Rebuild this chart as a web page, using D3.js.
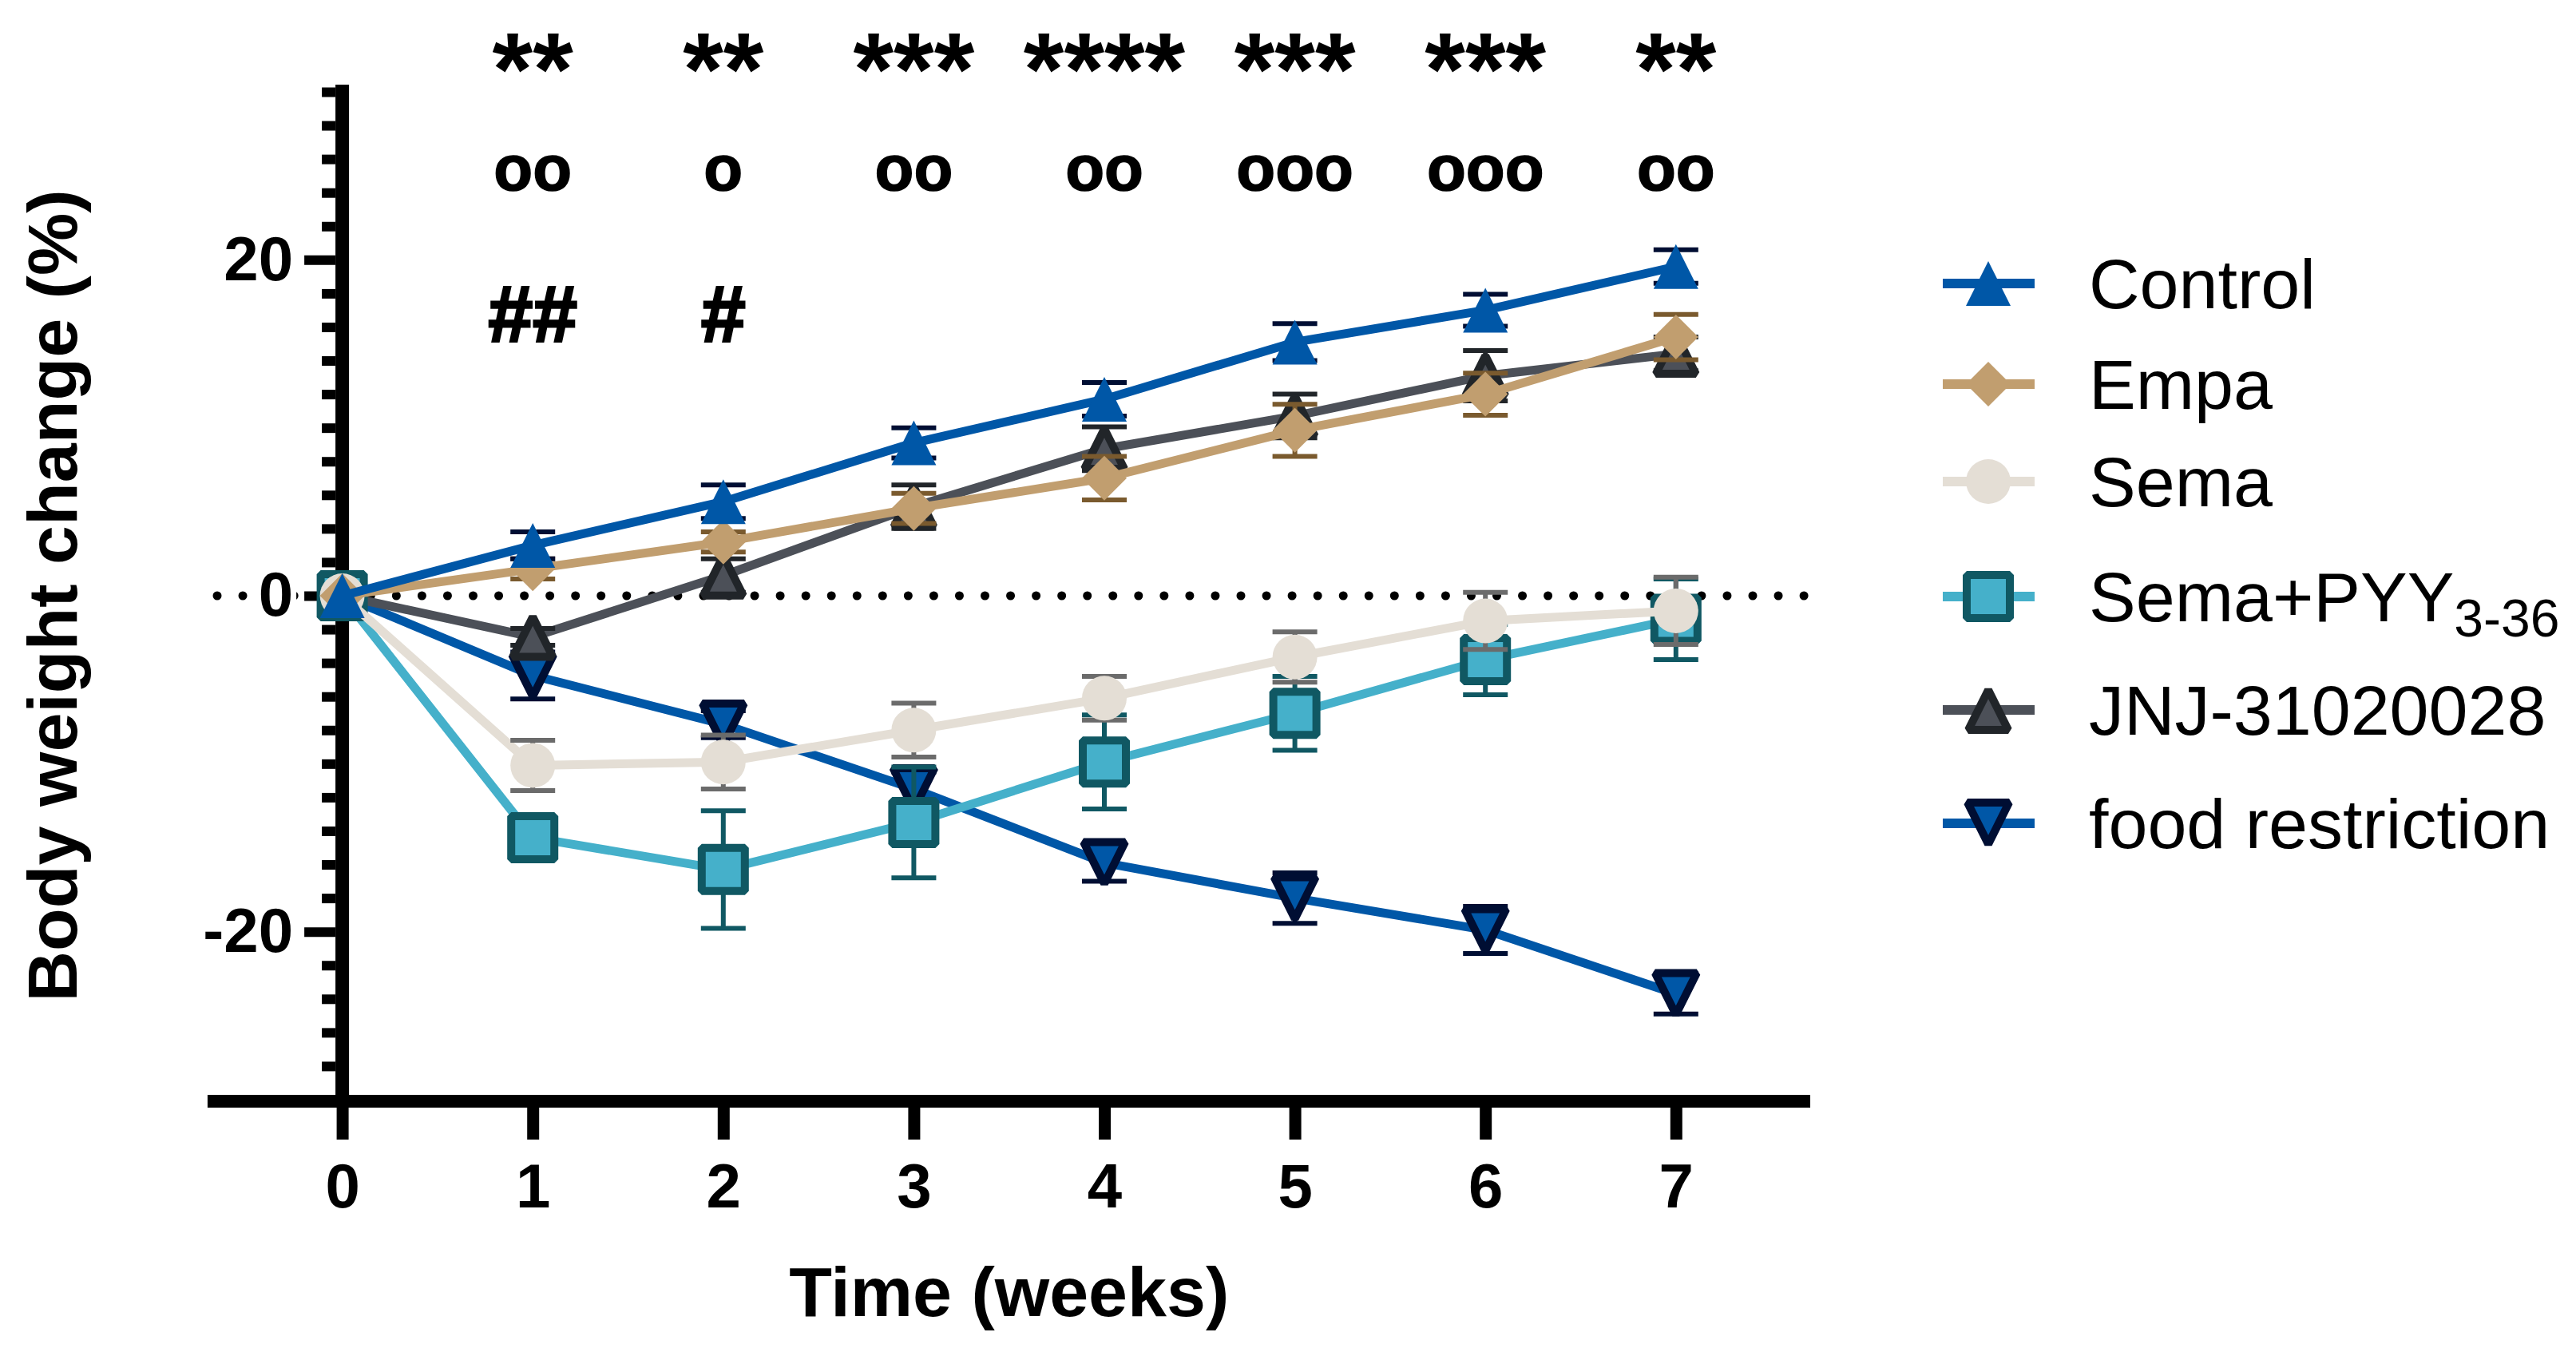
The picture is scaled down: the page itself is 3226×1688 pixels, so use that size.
<!DOCTYPE html>
<html>
<head>
<meta charset="utf-8">
<script src="https://cdn.jsdelivr.net/npm/d3@7"></script>
<style>
  html, body { margin: 0; padding: 0; background: #fff; }
  svg { display: block; font-family: "Liberation Sans", Arial, sans-serif; }
</style>
</head>
<body>
<svg id="chart" width="3226" height="1688"></svg>
<script>
// ---- data ----
var weeks = [0, 1, 2, 3, 4, 5, 6, 7];
var groupNames = ["Control", "Empa", "Sema", "Sema+PYY", "JNJ-31020028", "food restriction"];

var controlMean = [0, 3.0, 5.6, 9.1, 11.7, 15.1, 17.0, 19.6];
var controlSem  = [0, 0.8, 1.0, 0.9, 1.0, 1.1, 0.95, 1.0];
var empaMean    = [0, 1.6, 3.2, 5.2, 7.0, 9.85, 12.0, 15.4];
var empaSem     = [0, 0.6, 0.6, 0.9, 1.3, 1.55, 1.25, 1.35];
var semaMean    = [0, -10.1, -9.9, -8.0, -6.1, -3.65, -1.5, -0.9];
var semaSem     = [0, 1.5, 1.6, 1.6, 1.3, 1.5, 1.7, 2.0];
var pyyMean     = [0, -14.4, -16.3, -13.5, -9.9, -7.0, -3.8, -1.4];
var pyySem      = [0, 0.9, 3.5, 3.3, 2.8, 2.2, 2.1, 2.4];
var jnjMean     = [0, -2.45, 1.2, 5.3, 8.75, 10.7, 13.1, 14.4];
var jnjSem      = [0, 0.5, 1.0, 1.3, 1.3, 1.3, 1.5, 1.0];
var foodMean    = [0, -4.75, -7.65, -11.5, -15.9, -18.0, -19.9, -23.7];
var foodSem     = [0, 1.4, 0.8, 1.0, 1.1, 1.5, 1.4, 1.2];

var starMarks = ["", "**", "**", "***", "****", "***", "***", "**"];
var ringMarks = ["", "oo", "o", "oo", "oo", "ooo", "ooo", "oo"];
var hashMarks = ["", "##", "#", "", "", "", "", ""];

var yMajorTicks = [-20, 0, 20];
var yMinorTicks = d3.range(-30, 31, 2).filter(function (v) { return yMajorTicks.indexOf(v) < 0; });

// ---- styles ----
var navy = "#000E33";
var styles = [
  { shape: "triUp",   size: 56, line: "#0057A7", fill: "#0057A7", stroke: null,      sw: 0,  err: navy },
  { shape: "diamond", size: 56, line: "#C19E6F", fill: "#C19E6F", stroke: null,      sw: 0,  err: "#7A5A2E" },
  { shape: "circle",  size: 56, line: "#E4DED5", fill: "#E4DED5", stroke: null,      sw: 0,  err: "#6B6B6B" },
  { shape: "square",  size: 54, line: "#45B0CA", fill: "#45B0CA", stroke: "#105863", sw: 10, err: "#105863" },
  { shape: "triUp",   size: 50, line: "#4C5058", fill: "#4C5058", stroke: "#212529", sw: 10, err: "#212529" },
  { shape: "triDown", size: 52, line: "#0057A7", fill: "#0057A7", stroke: navy,      sw: 10, err: navy }
];
var means = [controlMean, empaMean, semaMean, pyyMean, jnjMean, foodMean];
var sems = [controlSem, empaSem, semaSem, pyySem, jnjSem, foodSem];

var series = groupNames.map(function (name, i) {
  return {
    name: name, style: styles[i], idx: i,
    points: weeks.map(function (w, j) { return { w: w, m: means[i][j], e: sems[i][j] }; })
  };
});

// ---- scales ----
var x = d3.scaleLinear().domain([0, 7]).range([428.6, 2098.8]);
var y = d3.scaleLinear().domain([-30, 30]).range([1377, 115]);

var svg = d3.select("#chart");
svg.append("rect").attr("width", 3226).attr("height", 1688).attr("fill", "#fff");

function shapePath(shape, s) {
  var p = d3.path(), h = s / 2;
  if (shape === "triUp") { p.moveTo(0, -h); p.lineTo(h, h); p.lineTo(-h, h); p.closePath(); }
  else if (shape === "triDown") { p.moveTo(0, h); p.lineTo(h, -h); p.lineTo(-h, -h); p.closePath(); }
  else if (shape === "diamond") { p.moveTo(0, -h); p.lineTo(h, 0); p.lineTo(0, h); p.lineTo(-h, 0); p.closePath(); }
  else if (shape === "square") { p.rect(-h, -h, s, s); }
  else { p.moveTo(h, 0); p.arc(0, 0, h, 0, 2 * Math.PI); }
  return p.toString();
}

// zero reference (dotted)
svg.append("line")
  .attr("x1", 272).attr("x2", x(7.705)).attr("y1", y(0)).attr("y2", y(0))
  .attr("stroke", "#000").attr("stroke-width", 11)
  .attr("stroke-linecap", "round").attr("stroke-dasharray", "0 32.05");

// ---- axes ----
var axisW = 17;
var yAxisLeft = x(0) - axisW / 2;
var xAxisBottom = y(-30) + 2 + 8;
var plainInt = function (d) { return String(d); }; // hyphen-minus like the original

var gyMinor = svg.append("g").attr("transform", "translate(" + yAxisLeft + ",0)")
  .call(d3.axisLeft(y).tickValues(yMinorTicks).tickSize(17).tickFormat(""));
var gyMajor = svg.append("g").attr("transform", "translate(" + yAxisLeft + ",0)")
  .call(d3.axisLeft(y).tickValues(yMajorTicks).tickSize(39).tickPadding(14).tickFormat(plainInt));
[gyMinor, gyMajor].forEach(function (g) {
  g.select(".domain").remove();
  g.selectAll(".tick line").attr("stroke", "#000").attr("stroke-width", 12);
});
gyMajor.selectAll(".tick text")
  .attr("font-size", 78).attr("font-weight", "bold").attr("fill", "#000")
  .attr("font-family", "'Liberation Sans', Arial, sans-serif");
// white backing behind the 0 label so the dotted line stops there
gyMajor.selectAll(".tick").each(function (d) {
  if (d !== 0) return;
  var t = d3.select(this).select("text"), bb = t.node().getBBox();
  d3.select(this).insert("rect", "text").attr("x", bb.x - 4).attr("y", bb.y)
    .attr("width", bb.width + 8).attr("height", bb.height).attr("fill", "#fff");
});

var gx = svg.append("g").attr("transform", "translate(0," + xAxisBottom + ")")
  .call(d3.axisBottom(x).tickValues(weeks).tickSize(40).tickPadding(30).tickFormat(plainInt));
gx.select(".domain").remove();
gx.selectAll(".tick line").attr("stroke", "#000").attr("stroke-width", 15);
gx.selectAll(".tick text")
  .attr("font-size", 78).attr("font-weight", "bold").attr("fill", "#000")
  .attr("font-family", "'Liberation Sans', Arial, sans-serif");

// axis lines
svg.append("line").attr("x1", x(0)).attr("x2", x(0))
  .attr("y1", y(30) - 9).attr("y2", xAxisBottom)
  .attr("stroke", "#000").attr("stroke-width", axisW);
svg.append("line").attr("x1", x(-0.707)).attr("x2", x(7.705))
  .attr("y1", xAxisBottom - 8).attr("y2", xAxisBottom - 8)
  .attr("stroke", "#000").attr("stroke-width", 16);

// axis titles
svg.append("text").attr("x", x(3.5)).attr("y", 1648)
  .attr("text-anchor", "middle").attr("font-size", 88).attr("font-weight", "bold")
  .text("Time (weeks)");
svg.append("text").attr("transform", "translate(96," + y(0) + ") rotate(-90)")
  .attr("text-anchor", "middle").attr("font-size", 88).attr("font-weight", "bold")
  .text("Body weight change (%)");

// ---- series (drawn last-to-first so Control ends on top) ----
var line = d3.line().x(function (d) { return x(d.w); }).y(function (d) { return y(d.m); });
var capW = 56;

series.slice().reverse().forEach(function (s) {
  var st = s.style;
  var g = svg.append("g").attr("class", "series");
  g.append("path").datum(s.points).attr("d", line)
    .attr("fill", "none").attr("stroke", st.line).attr("stroke-width", 11)
    .attr("stroke-linejoin", "round");

  var eb = g.selectAll("g.err").data(s.points.filter(function (d) { return d.e > 0; }))
    .join("g").attr("class", "err").attr("stroke", st.err).attr("stroke-width", 6);
  eb.append("line").attr("x1", function (d) { return x(d.w); }).attr("x2", function (d) { return x(d.w); })
    .attr("y1", function (d) { return y(d.m + d.e); }).attr("y2", function (d) { return y(d.m - d.e); });
  eb.append("line").attr("x1", function (d) { return x(d.w) - capW / 2; }).attr("x2", function (d) { return x(d.w) + capW / 2; })
    .attr("y1", function (d) { return y(d.m + d.e); }).attr("y2", function (d) { return y(d.m + d.e); });
  eb.append("line").attr("x1", function (d) { return x(d.w) - capW / 2; }).attr("x2", function (d) { return x(d.w) + capW / 2; })
    .attr("y1", function (d) { return y(d.m - d.e); }).attr("y2", function (d) { return y(d.m - d.e); });

  g.selectAll("path.mk").data(s.points).join("path").attr("class", "mk")
    .attr("transform", function (d) { return "translate(" + x(d.w) + "," + y(d.m) + ")"; })
    .attr("d", shapePath(st.shape, st.size))
    .attr("fill", st.fill)
    .attr("stroke", st.stroke || "none").attr("stroke-width", st.sw)
    .attr("stroke-linejoin", "bevel");
});

// ---- significance marks ----
function markRow(labels, baseY, fontSize, extra) {
  svg.append("g").selectAll("text").data(weeks.filter(function (w) { return labels[w]; }))
    .join("text")
    .attr("x", function (w) { return x(w); }).attr("y", baseY)
    .attr("text-anchor", "middle").attr("font-size", fontSize).attr("font-weight", "bold")
    .attr("stroke", "#000").attr("stroke-width", extra || 0)
    .text(function (w) { return labels[w]; });
}
markRow(starMarks, 132, 130);
markRow(ringMarks, 238, 80, 1.5);
markRow(hashMarks, 428, 100, 3);

// ---- legend ----
var legendY = [355, 481, 603, 747, 889, 1031];
var legend = svg.append("g");
series.forEach(function (s, i) {
  var st = s.style;
  var r = legend.append("g").attr("transform", "translate(0," + legendY[i] + ")");
  r.append("line").attr("x1", 2433).attr("x2", 2548).attr("y1", 0).attr("y2", 0)
    .attr("stroke", st.line).attr("stroke-width", 12);
  r.append("path").attr("transform", "translate(2490,0)")
    .attr("d", shapePath(st.shape, st.size))
    .attr("fill", st.fill).attr("stroke", st.stroke || "none").attr("stroke-width", st.sw)
    .attr("stroke-linejoin", "bevel");
  var t = r.append("text").attr("x", 2616).attr("y", 31).attr("font-size", 88);
  if (s.name === "Sema+PYY") {
    t.append("tspan").text("Sema+PYY");
    t.append("tspan").attr("font-size", 66).attr("dy", 19).text("3-36");
  } else {
    t.text(s.name);
  }
});
</script>
</body>
</html>
